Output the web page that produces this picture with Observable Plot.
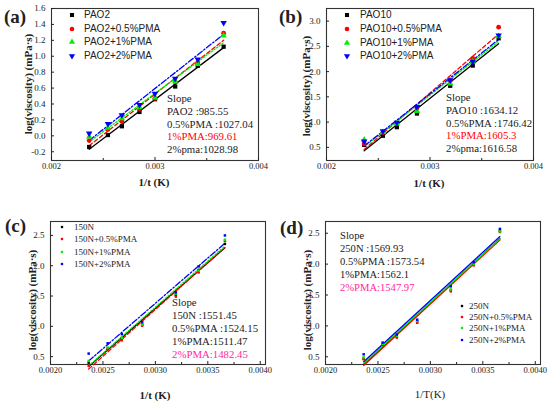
<!DOCTYPE html>
<html><head><meta charset="utf-8">
<script src="https://cdn.jsdelivr.net/npm/d3@7"></script>
<script src="https://cdn.jsdelivr.net/npm/@observablehq/plot@0.6"></script>
<style>
body{margin:0;background:#fff;}
#root{position:relative;width:550px;height:404px;overflow:hidden;font-family:"Liberation Serif",serif;color:#222;}
.panel{position:absolute;width:275px;height:202px;}
.panel svg{position:absolute;left:0;top:0;}
.ov{position:absolute;white-space:nowrap;line-height:1;transform:translateY(-50%);}
</style></head><body><div id="root"></div>
<script>
// ---------- data ----------
const xA = [0.002364, 0.002545, 0.00268, 0.00285, 0.003, 0.003195, 0.003413, 0.003663];
const aPAO2   = [-0.14, 0.01, 0.12, 0.30, 0.46, 0.62, 0.88, 1.12];
const aPMA05  = [-0.06, 0.08, 0.18, 0.34, 0.47, 0.68, 0.92, 1.29];
const aPMA1   = [-0.01, 0.10, 0.22, 0.36, 0.48, 0.68, 0.90, 1.26];
const aPMA2   = [0.03, 0.15, 0.26, 0.39, 0.53, 0.72, 0.96, 1.42];

const xB = [0.002364, 0.002545, 0.00268, 0.002874, 0.003195, 0.003413, 0.003663];
const bPAO10  = [0.55, 0.73, 0.90, 1.17, 1.72, 2.12, 2.66];
const bPMA05  = [0.57, 0.79, 0.97, 1.28, 1.82, 2.26, 2.88];
const bPMA1   = [0.65, 0.80, 0.97, 1.22, 1.76, 2.20, 2.70];
const bPMA2   = [0.62, 0.82, 0.99, 1.30, 1.83, 2.20, 2.72];

const xC = [0.002364, 0.002545, 0.00268, 0.002874, 0.003195, 0.003413, 0.003663];
const c150N   = [0.40, 0.63, 0.80, 1.03, 1.52, 1.93, 2.36];
const cPMA05  = [0.35, 0.62, 0.77, 1.01, 1.49, 1.89, 2.41];
const cPMA1   = [0.43, 0.65, 0.81, 1.03, 1.54, 1.92, 2.43];
const cPMA2   = [0.55, 0.72, 0.87, 1.07, 1.56, 1.99, 2.50];

const xD = [0.002364, 0.002545, 0.00268, 0.002874, 0.003195, 0.003413, 0.003663];
const d250N   = [0.47, 0.70, 0.83, 1.07, 1.58, 1.99, 2.54];
const dPMA05  = [0.46, 0.69, 0.81, 1.05, 1.56, 1.98, 2.52];
const dPMA1   = [0.49, 0.71, 0.84, 1.08, 1.59, 2.00, 2.53];
const dPMA2   = [0.54, 0.73, 0.86, 1.10, 1.64, 2.03, 2.57];

const namesA = ["PAO2", "PAO2+0.5%PMA", "PAO2+1%PMA", "PAO2+2%PMA"];
const namesB = ["PAO10", "PAO10+0.5%PMA", "PAO10+1%PMA", "PAO10+2%PMA"];
const namesC = ["150N", "150N+0.5%PMA", "150N+1%PMA", "150N+2%PMA"];
const namesD = ["250N", "250N+0.5%PMA", "250N+1%PMA", "250N+2%PMA"];

const slopeA = ["Slope", "PAO2 :985.55", "0.5%PMA :1027.04", "1%PMA:969.61", "2%pma:1028.98"];
const slopeB = ["Slope", "PAO10 :1634.12", "0.5%PMA :1746.42", "1%PMA:1605.3", "2%pma:1616.58"];
const slopeC = ["Slope", "150N :1551.45", "0.5%PMA :1524.15", "1%PMA:1511.47", "2%PMA:1482.45"];
const slopeD = ["Slope", "250N :1569.93", "0.5%PMA :1573.54", "1%PMA:1562.1", "2%PMA:1547.97"];

const yTicksA = [-0.2, 0.0, 0.2, 0.4, 0.6, 0.8, 1.0, 1.2, 1.4, 1.6];
const yTicksB = [0.5, 1.0, 1.5, 2.0, 2.5, 3.0];
const yTicksCD = [0.5, 1.0, 1.5, 2.0, 2.5];
const xTicksAB = [0.002, 0.003, 0.004];
const xMinorAB = [0.0025, 0.0035];
const xTicksCD = [0.0020, 0.0025, 0.0030, 0.0035, 0.0040];
const xMinorCD = [0.00225, 0.00275, 0.00325, 0.00375];

// ---------- styles ----------
const colors = ["#000000", "#ff0000", "#00f000", "#0000ff"];
const triDown = {draw(ctx, size) {
  const s3 = Math.sqrt(3), y = -Math.sqrt(size / (s3 * 3));
  ctx.moveTo(0, -y * 2); ctx.lineTo(-s3 * y, y); ctx.lineTo(s3 * y, y); ctx.closePath();
}};
const symsAB = [d3.symbolSquare, d3.symbolCircle, d3.symbolTriangle, triDown];
const symsCD = [d3.symbolSquare, d3.symbolSquare, d3.symbolSquare, d3.symbolSquare];
const dashes = [null, "4,2.5", "1.5,1.8", "6,2,1.5,2"];
const solids = [null, null, null, null];

const root = document.getElementById("root");

function overlay(parent, html, x, y, style) {
  const d = document.createElement("div");
  d.className = "ov";
  d.style.left = x + "px"; d.style.top = y + "px";
  Object.assign(d.style, style || {});
  d.innerHTML = html;
  parent.appendChild(d);
  return d;
}

function panel(cfg) {
  const p = document.createElement("div");
  p.className = "panel";
  p.style.left = cfg.left + "px"; p.style.top = cfg.top + "px";
  root.appendChild(p);
  const marks = [Plot.frame({stroke: "#333", strokeWidth: 1.1})];
  marks.push(Plot.axisX({ticks: cfg.xTicks, tickFormat: cfg.xFmt, tickSize: -3, tickPadding: 5, label: null, fontSize: 8.5}));
  marks.push(Plot.axisX({ticks: cfg.xMinor, tickFormat: () => "", tickSize: -2, label: null}));
  marks.push(Plot.axisY({ticks: cfg.yTicks, tickFormat: d => d.toFixed(1), tickSize: -3, tickPadding: 9, label: null, fontSize: 9}));
  cfg.series.forEach((ys, i) => {
    const rows = cfg.x.map((x, j) => ({x, y: ys[j]}));
    marks.push(Plot.linearRegressionY(rows, {x: "x", y: "y", stroke: colors[i], strokeWidth: 1.3, strokeDasharray: cfg.dash[i], ci: 0}));
  });
  cfg.series.forEach((ys, i) => {
    const rows = cfg.x.map((x, j) => ({x, y: ys[j]}));
    marks.push(Plot.dot(rows, {x: "x", y: "y", fill: colors[i], stroke: "none", symbol: cfg.syms[i], r: cfg.r}));
  });
  const svg = Plot.plot({
    width: 275, height: 202,
    marginLeft: cfg.m[0], marginRight: cfg.m[1], marginTop: cfg.m[2], marginBottom: cfg.m[3],
    style: {fontFamily: "Liberation Serif, serif", fontSize: "9px", color: "#222", background: "transparent"},
    x: {domain: cfg.xDomain},
    y: {domain: cfg.yDomain},
    marks
  });
  p.appendChild(svg);
  overlay(p, cfg.tag, cfg.tagPos[0], cfg.tagPos[1], {fontSize: "19px", fontWeight: "bold"});
  overlay(p, "log(viscosity) (mPa·s)", cfg.yTitle[0], cfg.yTitle[1], {fontSize: "11px", fontWeight: "bold", transform: "translate(-50%,-50%) rotate(-90deg)"});
  overlay(p, cfg.xTitleText, cfg.xTitle[0], cfg.xTitle[1], {fontSize: "11px", fontWeight: cfg.xTitleBold ? "bold" : "normal", transform: "translate(-50%,-50%)"});
  cfg.names.forEach((n, i) => {
    const sz = cfg.legSym;
    const path = d3.symbol(cfg.syms[i], sz * sz * Math.PI)();
    const y = cfg.leg.y0 + i * cfg.leg.dy;
    const m = document.createElementNS("http://www.w3.org/2000/svg", "svg");
    m.setAttribute("width", 10); m.setAttribute("height", 10);
    m.style.position = "absolute"; m.style.left = (cfg.leg.mx - 5) + "px"; m.style.top = (y - 5) + "px";
    m.innerHTML = `<path d="${path}" transform="translate(5,5)" fill="${colors[i]}"/>`;
    p.appendChild(m);
    overlay(p, n, cfg.leg.tx, y, {fontSize: cfg.leg.fs, fontFamily: cfg.leg.ff, color: "#222"});
  });
  cfg.slope.forEach((t, i) => {
    const col = i === 4 && cfg.hiColor4 ? cfg.hiColor4 : (i === 3 && cfg.hiColor3 ? cfg.hiColor3 : "#222");
    overlay(p, t, cfg.sl.x, cfg.sl.y0 + i * cfg.sl.dy, {fontSize: cfg.sl.fs, color: col});
  });
}

const fmt3 = d => d.toFixed(3);
const fmt4 = d => d.toFixed(4);

panel({left: 0, top: 0, tag: "(a)", tagPos: [4, 16],
  x: xA, series: [aPAO2, aPMA05, aPMA1, aPMA2], names: namesA, slope: slopeA, hiColor3: "#ff0000",
  syms: symsAB, dash: dashes, r: 2.4, legSym: 2.3,
  xDomain: [0.002, 0.004], yDomain: [-0.31, 1.6], m: [51, 17, 8, 42],
  xTicks: xTicksAB, xMinor: xMinorAB, xFmt: fmt3, yTicks: yTicksA,
  yTitle: [28, 84], xTitle: [154, 182], xTitleText: "1/t (K)", xTitleBold: true,
  leg: {mx: 72, tx: 84, y0: 15, dy: 13.7, fs: "10px", ff: "Liberation Sans, Arial, sans-serif"},
  sl: {x: 167, y0: 98, dy: 12.8, fs: "10.8px"}});

panel({left: 275, top: 0, tag: "(b)", tagPos: [4, 16],
  x: xB, series: [bPAO10, bPMA05, bPMA1, bPMA2], names: namesB, slope: slopeB, hiColor3: "#ff0000",
  syms: symsAB, dash: dashes, r: 2.4, legSym: 2.3,
  xDomain: [0.002, 0.004], yDomain: [0.24, 3.25], m: [51, 17, 8, 42],
  xTicks: xTicksAB, xMinor: xMinorAB, xFmt: fmt3, yTicks: yTicksB,
  yTitle: [31, 86], xTitle: [154, 183], xTitleText: "1/t (K)", xTitleBold: true,
  leg: {mx: 72, tx: 85, y0: 15, dy: 13.8, fs: "10px", ff: "Liberation Sans, Arial, sans-serif"},
  sl: {x: 171, y0: 97, dy: 12.8, fs: "10.8px"}});

panel({left: 0, top: 202, tag: "(c)", tagPos: [5, 23],
  x: xC, series: [c150N, cPMA05, cPMA1, cPMA2], names: namesC, slope: slopeC, hiColor4: "#ff2a9d",
  syms: symsCD, dash: dashes, r: 1.4, legSym: 1.3,
  xDomain: [0.002, 0.00405], yDomain: [0.37, 2.73], m: [50, 10, 19, 40],
  xTicks: xTicksCD, xMinor: xMinorCD, xFmt: fmt4, yTicks: yTicksCD,
  yTitle: [32, 98], xTitle: [155, 193], xTitleText: "1/t (K)", xTitleBold: true,
  leg: {mx: 62, tx: 74, y0: 25, dy: 12.3, fs: "9px", ff: "Liberation Serif, serif"},
  sl: {x: 172, y0: 100, dy: 12.9, fs: "10.8px"}});

panel({left: 275, top: 202, tag: "(d)", tagPos: [5, 25],
  x: xD, series: [d250N, dPMA05, dPMA1, dPMA2], names: namesD, slope: slopeD, hiColor4: "#ff2a9d",
  syms: symsCD, dash: solids, r: 1.4, legSym: 1.3,
  xDomain: [0.002, 0.00405], yDomain: [0.375, 2.69], m: [50, 10, 19, 40],
  xTicks: xTicksCD, xMinor: xMinorCD, xFmt: fmt4, yTicks: yTicksCD,
  yTitle: [32, 98], xTitle: [155, 192], xTitleText: "1/T(K)", xTitleBold: false,
  leg: {mx: 187, tx: 194, y0: 104, dy: 11.2, fs: "9px", ff: "Liberation Serif, serif"},
  sl: {x: 65, y0: 34, dy: 13, fs: "10.6px"}});
</script>
</body></html>
